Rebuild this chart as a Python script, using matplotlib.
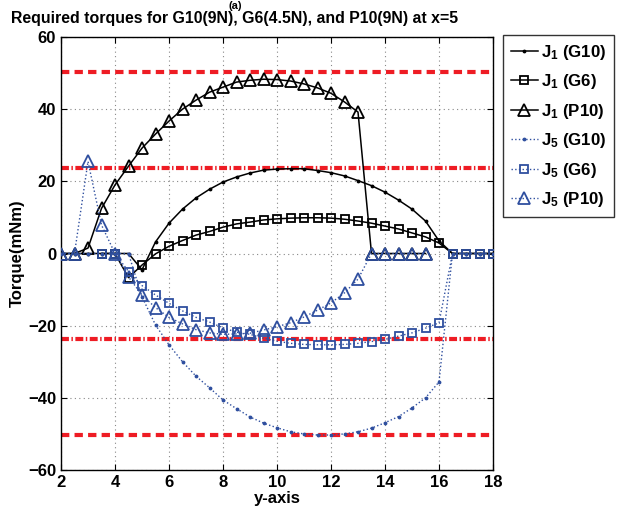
import numpy as np
import matplotlib
matplotlib.use("Agg")
import matplotlib.pyplot as plt

plt.rcParams['font.family'] = ['Liberation Sans', 'DejaVu Sans']
plt.rcParams['font.weight'] = 'bold'
plt.rcParams['mathtext.fontset'] = 'custom'
plt.rcParams['mathtext.rm'] = 'Liberation Sans:bold'
plt.rcParams['mathtext.bf'] = 'Liberation Sans:bold'
plt.rcParams['mathtext.it'] = 'Liberation Sans:bold'

# x positions
x_g10 = np.arange(2.0, 18.01, 0.5)
x_g6 = np.arange(3.5, 18.01, 0.5)
x_p10 = np.arange(2.0, 15.51, 0.5)

j1_g10 = [0, 0, 0, 0, 0, 0, -4.5, 3.2, 8.4, 12.3, 15.4, 17.8, 19.8, 21.2, 22.3, 23.1,
          23.4, 23.5, 23.5, 23.0, 22.4, 21.5, 20.2, 18.8, 17.0, 14.8, 12.3, 9.0, 3.5,
          0, 0, 0, 0]
j5_g10 = [0, 0, 0, 0, 0, 0, -12.0, -19.8, -25.3, -30.0, -34.0, -37.2, -40.6, -43.0,
          -45.3, -47.0, -48.3, -49.4, -50.0, -50.3, -50.3, -50.0, -49.4, -48.4, -46.9,
          -45.2, -42.8, -40.0, -35.6, 0, 0, 0, 0]

j1_g6 = [0, 0, -6.7, -3.2, -0.1, 2.0, 3.6, 5.1, 6.1, 7.3, 8.2, 8.7, 9.3, 9.6, 9.8, 9.9,
         9.9, 9.8, 9.5, 9.0, 8.4, 7.6, 6.8, 5.7, 4.6, 2.9, 0, 0, 0, 0]
j5_g6 = [0, 0, -5.0, -8.9, -11.5, -13.8, -15.9, -17.7, -19.0, -20.6, -21.8, -22.4, -23.5,
         -24.3, -24.9, -25.2, -25.3, -25.3, -25.2, -24.9, -24.4, -23.8, -22.9, -22.0,
         -20.7, -19.2, 0, 0, 0, 0]

j1_p10 = [0, 0, 1.5, 12.5, 19.0, 24.2, 29.2, 33.1, 36.7, 40.0, 42.5, 44.7, 46.1, 47.5,
          48.0, 48.3, 48.2, 47.8, 47.0, 45.9, 44.4, 42.0, 39.2, 0, 0, 0, 0, 0]
j5_p10 = [0, 0, 25.5, 7.9, 0, -6.5, -11.5, -15.0, -17.7, -19.5, -21.1, -22.0, -22.4,
          -22.3, -22.1, -21.2, -20.3, -19.2, -17.6, -15.7, -13.7, -10.9, -7.1, 0, 0, 0,
          0, 0]

dash_limits = [50.3, -50.3]
dashdot_limits = [23.7, -23.7]

xticks = [2, 4, 6, 8, 10, 12, 14, 16, 18]
yticks = [-60, -40, -20, 0, 20, 40, 60]

fig = plt.figure(figsize=(6.17, 5.15), dpi=100)
ax = fig.add_axes([61/617, 45/515, 432/617, 433/515])

red = '#ee1c24'
for v in dash_limits:
    ax.axhline(v, color=red, lw=3, linestyle=(0, (2.0, 1.25)), zorder=1)
for v in dashdot_limits:
    ax.axhline(v, color=red, lw=3, linestyle=(0, (1.9, 0.6, 0.35, 0.6)), zorder=1)

blue = '#2f4f9f'
ax.plot(x_g10, j1_g10, color='black', lw=1.1, marker='.', ms=3.5, label=r'$\mathregular{J_1}$ (G10)', zorder=3)
ax.plot(x_g6, j1_g6, color='black', lw=1.1, marker='s', ms=6, mfc='none', mew=1.3, label=r'$\mathregular{J_1}$ (G6)', zorder=3)
ax.plot(x_p10, j1_p10, color='black', lw=1.1, marker='^', ms=8, mfc='none', mew=1.3, label=r'$\mathregular{J_1}$ (P10)', zorder=3)
ax.plot(x_g10, j5_g10, color=blue, lw=1.0, linestyle=':', marker='.', ms=3.5, label=r'$\mathregular{J_5}$ (G10)', zorder=4)
ax.plot(x_g6, j5_g6, color=blue, lw=1.0, linestyle=':', marker='s', ms=6, mfc='none', mew=1.3, label=r'$\mathregular{J_5}$ (G6)', zorder=4)
ax.plot(x_p10, j5_p10, color=blue, lw=1.0, linestyle=':', marker='^', ms=8, mfc='none', mew=1.3, label=r'$\mathregular{J_5}$ (P10)', zorder=4)

ax.set_xlim(2, 18)
ax.set_ylim(-60, 60)
ax.set_xticks(xticks)
ax.set_yticks(yticks)
ax.tick_params(direction='in', top=True, right=True, labelsize=12, length=4)
for lab in ax.get_xticklabels() + ax.get_yticklabels():
    lab.set_fontweight('bold')
ax.grid(True, color='#888888', linestyle=(0, (1, 3)), lw=0.8)
ax.set_axisbelow(True)
for s in ax.spines.values():
    s.set_linewidth(1.0)

ax.set_xlabel('y-axis', fontsize=12, fontweight='bold', labelpad=1)
ax.set_ylabel('Torque(mNm)', fontsize=12, fontweight='bold', labelpad=2)
ax.set_title('Required torques for G10(9N), G6(4.5N), and P10(9N) at x=5',
             fontsize=11.4, fontweight='bold', pad=10, x=(235 - 61) / 432)
fig.text(235/617, 0.999, '(a)', fontsize=8, fontweight='bold', ha='center', va='top')

leg = fig.legend(loc='upper left', bbox_to_anchor=(503/617, 1 - 35/515), fontsize=12.2,
                 frameon=True, fancybox=False, edgecolor='black', handlelength=1.6,
                 handletextpad=0.2, borderpad=0.45, labelspacing=0.62, borderaxespad=0,
                 markerscale=1.0)
leg.get_frame().set_linewidth(1.0)
for t in leg.get_texts():
    t.set_fontweight('bold')

fig.savefig('out.png', dpi=100)
